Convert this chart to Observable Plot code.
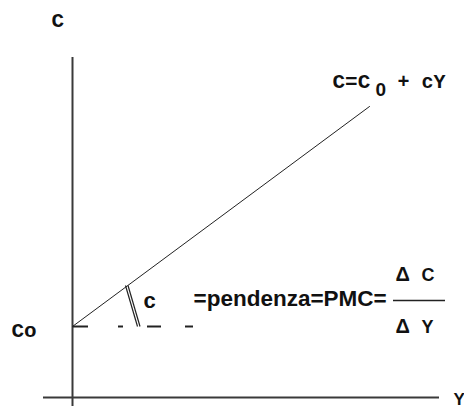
<!DOCTYPE html>
<html>
<head>
<meta charset="utf-8">
<script src="https://cdn.jsdelivr.net/npm/d3@7"></script>
<script src="https://cdn.jsdelivr.net/npm/@observablehq/plot@0.6"></script>
<style>
  html, body { margin: 0; padding: 0; background: #fff; }
  svg { display: block; }
</style>
</head>
<body>
<div id="chart"></div>
<script>
// Consumption function C = C0 + cY (arbitrary units, origin at axes crossing)
const lineIncome = [0, 297];        // Y
const lineConsumption = [71, 291];  // C
const autonomous = 71;              // C0
const dashStart = [1, 46, 75, 113];
const dashEnd = [16, 51, 89, 121];
const angleFrom = [54, 112];
const angleTo = [66, 71];

const serifLabels = ["C", "Co", "C=C", "+ cY"];
const serifX = [-21, -61, 260, 325];
const serifY = [371, 61, 310, 310];
const serifSize = [21, 21, 21, 20];

const sansLabels = ["0", "c", "=pendenza=PMC=", "Δ", "C", "Δ", "Y", "Y"];
const sansX = [303, 71, 121, 323, 349, 323, 349, 381];
const sansY = [302, 90, 92, 117, 117, 65, 65, -7];
const sansSize = [19, 22, 22.5, 20, 18, 20, 18, 17];

const lineData = lineIncome.map((y, i) => ({Y: y, C: lineConsumption[i]}));
const dashes = dashStart.map((s, i) => ({x1: s, x2: dashEnd[i], y: autonomous}));
const serif = serifLabels.map((t, i) => ({t, x: serifX[i], y: serifY[i], s: serifSize[i]}));
const sans = sansLabels.map((t, i) => ({t, x: sansX[i], y: sansY[i], s: sansSize[i]}));

const ink = "#3a3a3a";

const chart = Plot.plot({
  width: 464,
  height: 407,
  margin: 0,
  x: {domain: [-72, 392], range: [0, 464], axis: null},
  y: {domain: [-10, 397], range: [407, 0], axis: null},
  marks: [
    // axes
    Plot.ruleX([0], {y1: -9, y2: 340, stroke: ink, strokeWidth: 2}),
    Plot.ruleY([0], {x1: -29, x2: 367, stroke: ink, strokeWidth: 2}),
    // consumption line
    Plot.line(lineData, {x: "Y", y: "C", stroke: "#222", strokeWidth: 1}),
    // dashed level of C0
    Plot.ruleY(dashes, {x1: "x1", x2: "x2", y: "y", stroke: "#222", strokeWidth: 2}),
    // angle mark (double stroke)
    Plot.link([0, 1], {
      x1: d => angleFrom[0] - 1 + d * 2.5, y1: angleFrom[1],
      x2: d => angleTo[0] - 1 + d * 2.5, y2: angleTo[1],
      stroke: "#222", strokeWidth: 1.2
    }),
    // fraction bar
    Plot.ruleY([97], {x1: 321, x2: 373, stroke: "#222", strokeWidth: 1.5}),
    // slab labels
    ...serif.map(d => Plot.text([d], {
      x: "x", y: "y", text: "t", textAnchor: "start", lineAnchor: "bottom",
      fontFamily: "Liberation Mono", fontWeight: "bold", fontSize: d.s, fill: "#111"
    })),
    // sans labels
    ...sans.map(d => Plot.text([d], {
      x: "x", y: "y", text: "t", textAnchor: "start", lineAnchor: "bottom",
      fontFamily: "Liberation Sans", fontWeight: "bold", fontSize: d.s, fill: "#111"
    }))
  ]
});
document.getElementById("chart").appendChild(chart);
</script>
</body>
</html>
